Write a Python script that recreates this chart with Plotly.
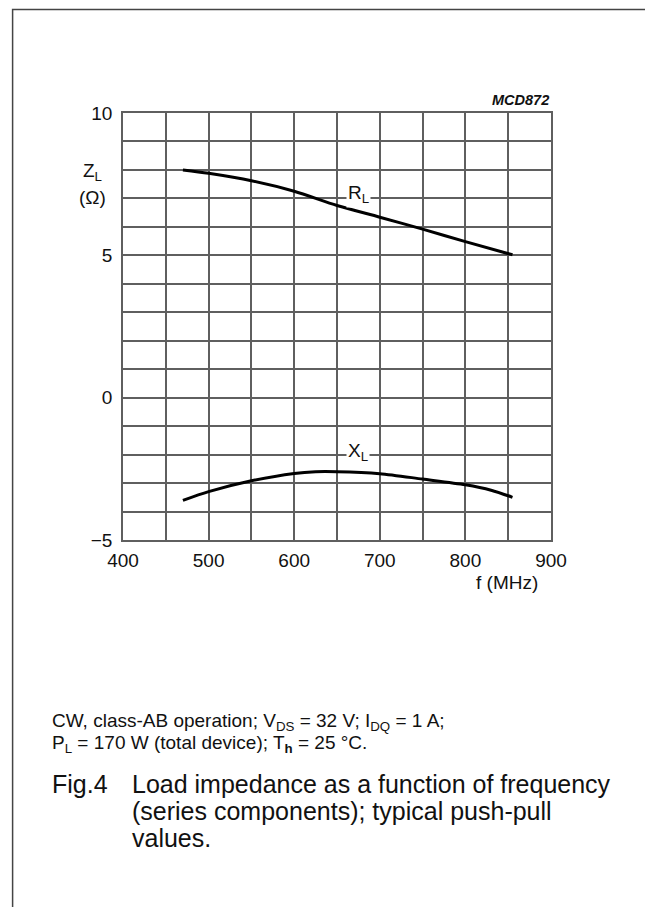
import plotly.graph_objects as go

# ---- data ----
freq_rl = [470, 500, 550, 600, 650, 700, 750, 800, 855]
r_l = [8.00, 7.88, 7.62, 7.25, 6.75, 6.34, 5.92, 5.48, 5.02]

freq_xl = [470, 500, 550, 600, 625, 650, 700, 750, 800, 830, 855]
x_l = [-3.61, -3.30, -2.92, -2.66, -2.60, -2.60, -2.67, -2.86, -3.06, -3.25, -3.50]

x_tick_vals = [400, 500, 600, 700, 800, 900]
x_tick_text = ["400", "500", "600", "700", "800", "900"]
y_tick_vals = [-5, 0, 5, 10]
y_tick_text = ["\u22125", "0", "5", "10"]

# ---- layout geometry (reference pixels; page body adds an 8px offset) ----
OFF = 8
W, H = 653 - OFF, 907 - OFF
L, R, T, B = 122.7 - OFF, 550.7 - OFF, 112.7 - OFF, 540.3 - OFF
pw, ph = R - L, B - T

def px(x):
    return (x - OFF - L) / pw

def py(y):
    return (B - (y - OFF)) / ph

FONT = "Liberation Sans, Arial, sans-serif"
GRID = "#5f5f5f"
TXT = "#111"

fig = go.Figure()
fig.add_trace(go.Scatter(x=freq_rl, y=r_l, mode="lines", line=dict(color="black", width=3, shape="spline", smoothing=0.8),
                         showlegend=False, hoverinfo="skip"))
fig.add_trace(go.Scatter(x=freq_xl, y=x_l, mode="lines", line=dict(color="black", width=3, shape="spline", smoothing=0.8),
                         showlegend=False, hoverinfo="skip"))

fig.update_xaxes(range=[400, 900], tickvals=x_tick_vals, ticktext=x_tick_text, showgrid=True,
                 gridcolor=GRID, gridwidth=1.5, zeroline=False, showline=True, linecolor=GRID, linewidth=1.5,
                 mirror=True, ticks="", tickfont=dict(family=FONT, size=19, color=TXT), ticklabelstandoff=2,
                 minor=dict(dtick=50, tick0=400, showgrid=True, gridcolor=GRID, gridwidth=1.5, ticks=""))
fig.update_yaxes(range=[-5, 10], tickvals=y_tick_vals, ticktext=y_tick_text, showgrid=True,
                 gridcolor=GRID, gridwidth=1.5, zeroline=False, showline=True, linecolor=GRID, linewidth=1.5,
                 mirror=True, ticks="", tickfont=dict(family=FONT, size=19, color=TXT), ticklabelstandoff=5,
                 minor=dict(dtick=1, tick0=0, showgrid=True, gridcolor=GRID, gridwidth=1.5, ticks=""))

ann = []
def text(x, y, s, size, xanchor="center", italic=False, bg=None, yanchor="middle"):
    d = dict(x=px(x), y=py(y), xref="paper", yref="paper", text=s, showarrow=False,
             xanchor=xanchor, yanchor=yanchor,
             font=dict(family=FONT, size=size, color=TXT, style="italic" if italic else "normal"))
    if bg:
        d["bgcolor"] = bg
        d["borderpad"] = 1
    ann.append(d)

text(92, 172, "Z<sub>L</sub>", 19)
text(92, 197, "(\u03a9)", 19)
text(551, 100, "<b>MCD872</b>", 14.5, xanchor="right", italic=True)
text(507, 583, "f (MHz)", 19)
text(358, 194, "R<sub>L</sub>", 19, bg="white")
text(358, 452, "X<sub>L</sub>", 19, bg="white")

text(50, 723, "CW, class-AB operation; V<sub>DS</sub> = 32 V; I<sub>DQ</sub> = 1 A;", 19, xanchor="left")
text(50, 745, "P<sub>L</sub> = 170 W (total device); T<sub><b>h</b></sub> = 25 \u00b0C.", 19, xanchor="left")
text(50, 785, "Fig.4", 25, xanchor="left")
text(130, 785, "Load impedance as a function of frequency", 25, xanchor="left")
text(130, 812, "(series components); typical push-pull", 25, xanchor="left")
text(130, 839, "values.", 25, xanchor="left")

fig.update_layout(
    width=W, height=H, autosize=False,
    margin=dict(l=L, r=W - R, t=T, b=H - B, pad=0),
    paper_bgcolor="white", plot_bgcolor="white",
    annotations=ann,
    shapes=[dict(type="rect", xref="paper", yref="paper", x0=px(12.3), x1=px(651), y0=py(940), y1=py(9),
                 line=dict(color="#444", width=1.5), fillcolor="rgba(0,0,0,0)", layer="below")],
)

fig.write_html("out.html")
